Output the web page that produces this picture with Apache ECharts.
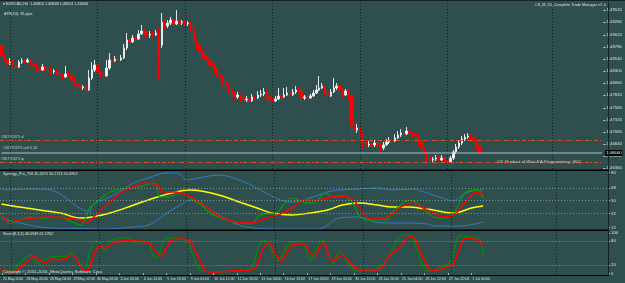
<!DOCTYPE html>
<html><head><meta charset="utf-8">
<script src="https://cdn.jsdelivr.net/npm/echarts@6.0.0/dist/echarts.min.js"></script>
<style>html,body{margin:0;padding:0;background:#2f4f4f;overflow:hidden}#c{width:625px;height:283px}</style>
</head><body><div id="c"></div>
<script>
// ---------- DATA ----------
const timeLabels = ['21 May 2014','26 May 20:00','28 May 04:00','29 May 12:00','30 May 20:00','3 Jun 04:00','4 Jun 12:00','5 Jun 20:00','9 Jun 04:00','10 Jun 12:00','11 Jun 20:00','13 Jun 04:00','16 Jun 12:00','17 Jun 20:00','19 Jun 04:00','20 Jun 12:00','23 Jun 20:00','25 Jun 04:00','26 Jun 12:00','27 Jun 20:00','1 Jul 04:00'];

const opens = [
1.4880,1.4860,1.4852,1.4844,1.4848,1.4840,1.4838,1.4848,1.4850,1.4848,
1.4852,1.4846,1.4840,1.4836,1.4832,1.4838,1.4834,1.4832,1.4828,1.4830,
1.4824,1.4822,1.4818,1.4824,1.4820,1.4812,1.4804,1.4800,1.4796,1.4798,
1.4792,1.4816,1.4832,1.4842,1.4828,1.4822,1.4820,1.4836,1.4852,1.4850,
1.4854,1.4852,1.4856,1.4876,1.4892,1.4888,1.4896,1.4894,1.4904,1.4910,
1.4906,1.4902,1.4904,1.4902,1.4906,1.4882,1.4928,1.4920,1.4926,1.4932,
1.4924,1.4930,1.4926,1.4928,1.4924,1.4926,1.4916,1.4892,1.4882,1.4868,
1.4862,1.4852,1.4848,1.4840,1.4832,1.4824,1.4816,1.4808,1.4800,1.4792,
1.4784,1.4778,1.4782,1.4776,1.4772,1.4774,1.4770,1.4778,1.4776,1.4782,
1.4784,1.4788,1.4778,1.4772,1.4770,1.4774,1.4780,1.4778,1.4782,1.4786,
1.4782,1.4788,1.4792,1.4790,1.4776,1.4778,1.4776,1.4780,1.4786,1.4792,
1.4796,1.4800,1.4788,1.4780,1.4788,1.4796,1.4800,1.4792,1.4782,1.4790,
1.4780,1.4722,1.4712,1.4716,1.4700,1.4688,1.4682,1.4684,1.4682,1.4686,
1.4682,1.4676,1.4682,1.4688,1.4692,1.4690,1.4696,1.4702,1.4706,1.4704,
1.4710,1.4706,1.4704,1.4700,1.4688,1.4676,1.4664,1.4656,1.4652,1.4654,
1.4656,1.4652,1.4656,1.4652,1.4648,1.4656,1.4668,1.4678,1.4686,1.4694,
1.4698,1.4700,1.4696,1.4690,1.4680];
const closes = [
1.4860,1.4852,1.4844,1.4848,1.4840,1.4838,1.4848,1.4850,1.4848,1.4852,
1.4846,1.4840,1.4836,1.4832,1.4838,1.4834,1.4832,1.4828,1.4830,1.4824,
1.4822,1.4818,1.4824,1.4820,1.4812,1.4804,1.4800,1.4796,1.4798,1.4792,
1.4816,1.4832,1.4842,1.4828,1.4822,1.4820,1.4836,1.4852,1.4850,1.4854,
1.4852,1.4856,1.4876,1.4892,1.4888,1.4896,1.4894,1.4904,1.4910,1.4906,
1.4902,1.4904,1.4902,1.4906,1.4856,1.4928,1.4920,1.4926,1.4932,1.4924,
1.4930,1.4926,1.4928,1.4924,1.4926,1.4916,1.4892,1.4882,1.4868,1.4862,
1.4852,1.4848,1.4840,1.4832,1.4824,1.4816,1.4808,1.4800,1.4792,1.4784,
1.4778,1.4782,1.4776,1.4772,1.4774,1.4770,1.4778,1.4776,1.4782,1.4784,
1.4788,1.4778,1.4772,1.4770,1.4774,1.4780,1.4778,1.4782,1.4786,1.4782,
1.4788,1.4792,1.4790,1.4776,1.4778,1.4776,1.4780,1.4786,1.4792,1.4796,
1.4800,1.4788,1.4780,1.4788,1.4796,1.4800,1.4792,1.4782,1.4790,1.4780,
1.4722,1.4712,1.4716,1.4700,1.4688,1.4682,1.4684,1.4682,1.4686,1.4682,
1.4676,1.4682,1.4688,1.4692,1.4690,1.4696,1.4702,1.4706,1.4704,1.4710,
1.4706,1.4704,1.4700,1.4688,1.4676,1.4664,1.4656,1.4652,1.4654,1.4656,
1.4652,1.4656,1.4652,1.4648,1.4656,1.4668,1.4678,1.4686,1.4694,1.4698,
1.4700,1.4696,1.4690,1.4680,1.4666];
const highs = [
1.4886,1.4864,1.4856,1.4856,1.4852,1.4846,1.4852,1.4856,1.4854,1.4856,
1.4854,1.4850,1.4844,1.4840,1.4844,1.4842,1.4838,1.4836,1.4834,1.4832,
1.4828,1.4826,1.4840,1.4828,1.4824,1.4816,1.4808,1.4804,1.4802,1.4802,
1.4832,1.4848,1.4852,1.4846,1.4832,1.4826,1.4852,1.4866,1.4858,1.4860,
1.4858,1.4862,1.4884,1.4906,1.4896,1.4902,1.4900,1.4912,1.4922,1.4914,
1.4910,1.4910,1.4908,1.4912,1.4918,1.4946,1.4932,1.4932,1.4938,1.4936,
1.4952,1.4934,1.4932,1.4932,1.4930,1.4930,1.4920,1.4896,1.4886,1.4872,
1.4866,1.4856,1.4852,1.4844,1.4836,1.4828,1.4820,1.4812,1.4804,1.4796,
1.4788,1.4788,1.4786,1.4780,1.4780,1.4778,1.4784,1.4782,1.4790,1.4792,
1.4796,1.4792,1.4782,1.4776,1.4780,1.4796,1.4786,1.4796,1.4798,1.4792,
1.4794,1.4800,1.4796,1.4794,1.4782,1.4782,1.4784,1.4792,1.4802,1.4820,
1.4806,1.4802,1.4792,1.4794,1.4816,1.4806,1.4802,1.4796,1.4794,1.4792,
1.4784,1.4736,1.4724,1.4720,1.4704,1.4692,1.4690,1.4688,1.4692,1.4690,
1.4686,1.4688,1.4694,1.4698,1.4696,1.4704,1.4710,1.4714,1.4710,1.4718,
1.4712,1.4710,1.4708,1.4704,1.4692,1.4680,1.4668,1.4660,1.4658,1.4662,
1.4660,1.4662,1.4658,1.4656,1.4660,1.4672,1.4684,1.4692,1.4700,1.4704,
1.4706,1.4704,1.4698,1.4694,1.4684];
const lows = [
1.4856,1.4848,1.4838,1.4842,1.4836,1.4832,1.4836,1.4844,1.4844,1.4846,
1.4842,1.4834,1.4828,1.4828,1.4830,1.4830,1.4826,1.4822,1.4824,1.4820,
1.4818,1.4814,1.4816,1.4816,1.4808,1.4800,1.4794,1.4790,1.4792,1.4786,
1.4790,1.4812,1.4828,1.4824,1.4818,1.4816,1.4818,1.4832,1.4846,1.4848,
1.4846,1.4850,1.4854,1.4872,1.4884,1.4886,1.4888,1.4892,1.4902,1.4900,
1.4898,1.4896,1.4898,1.4900,1.4812,1.4876,1.4914,1.4916,1.4922,1.4918,
1.4922,1.4920,1.4922,1.4920,1.4920,1.4908,1.4884,1.4872,1.4860,1.4856,
1.4846,1.4840,1.4834,1.4826,1.4818,1.4810,1.4802,1.4794,1.4786,1.4778,
1.4772,1.4774,1.4770,1.4766,1.4768,1.4764,1.4768,1.4772,1.4774,1.4778,
1.4780,1.4772,1.4768,1.4764,1.4768,1.4772,1.4772,1.4776,1.4780,1.4776,
1.4780,1.4784,1.4784,1.4756,1.4772,1.4770,1.4774,1.4778,1.4784,1.4790,
1.4794,1.4782,1.4774,1.4778,1.4786,1.4792,1.4786,1.4776,1.4780,1.4774,
1.4690,1.4702,1.4706,1.4692,1.4672,1.4674,1.4678,1.4676,1.4678,1.4674,
1.4666,1.4672,1.4680,1.4684,1.4684,1.4688,1.4694,1.4698,1.4698,1.4702,
1.4700,1.4698,1.4694,1.4682,1.4670,1.4658,1.4648,1.4646,1.4648,1.4650,
1.4648,1.4650,1.4646,1.4644,1.4646,1.4652,1.4664,1.4674,1.4682,1.4690,
1.4694,1.4692,1.4684,1.4674,1.4660];

const priceTicks = [1.4952,1.4928,1.4902,1.4878,1.4854,1.4830,1.4806,1.4782,1.4756,1.4732,1.4708,1.4684,1.4660,1.4636];
const slLevel = 1.4692, bidLevel = 1.4666, tpLevel = 1.4648;
const orderTexts = ['#36770575 sl', '#36770575 sell 0.10', '#36770575 tp'];

// TDI pane: [barIndex, value]
const tdiUpper = [[0,65.1],[11,66.5],[17,65.1],[22,53.8],[26,41.1],[30,34.0],[31,43.9],[36,53.8],[40,62.3],[45,75.0],[50,82.1],[56,89.2],[60,89.2],[63,79.3],[67,82.1],[74,86.3],[79,82.1],[85,72.2],[90,60.9],[95,51.0],[99,48.2],[105,53.8],[111,62.3],[115,65.1],[122,66.5],[128,68.0],[133,65.1],[140,66.5],[145,60.9],[150,53.8],[154,49.6],[157,58.1],[160,63.7],[164,65.1]];
const tdiLower = [[0,25.5],[5,19.9],[11,14.2],[17,11.4],[28,10.7],[34,10.0],[45,12.8],[50,15.6],[54,25.5],[58,36.9],[61,43.9],[64,51.0],[68,45.3],[74,29.8],[81,15.6],[86,11.4],[95,10.0],[108,10.0],[115,25.5],[122,27.0],[127,19.9],[133,18.5],[139,18.5],[145,17.1],[147,14.2],[156,14.2],[164,19.9]];
const tdiYellow = [[0,45.3],[6,41.1],[13,36.9],[20,32.6],[27,25.5],[31,27.0],[37,32.6],[45,43.9],[52,53.8],[58,60.9],[64,65.1],[68,63.7],[74,58.1],[81,48.2],[87,39.7],[92,32.6],[99,29.8],[105,32.6],[111,36.9],[116,43.9],[122,46.8],[128,43.9],[133,41.1],[139,41.1],[142,39.7],[147,36.9],[153,32.6],[156,34.0],[160,39.7],[164,42.5]];
const tdiRed = [[0,29.8],[3,19.9],[6,22.7],[11,25.5],[17,27.0],[22,25.5],[27,22.7],[29,19.9],[33,34.0],[37,48.2],[41,62.3],[45,69.4],[48,75.0],[53,72.2],[55,62.3],[59,62.3],[63,58.1],[67,49.6],[72,34.0],[77,22.7],[85,18.5],[90,25.5],[95,31.2],[99,39.7],[103,51.0],[108,51.0],[114,56.7],[119,53.8],[122,39.7],[125,25.5],[130,25.5],[134,34.0],[136,41.1],[140,46.8],[143,41.1],[147,32.6],[150,27.0],[154,29.8],[157,43.9],[160,58.1],[162,62.3],[164,59.5]];
const tdiGreen = [[0,32.6],[3,18.5],[10,27.0],[14,25.5],[20,27.0],[24,19.9],[27,15.6],[30,39.7],[34,53.8],[37,62.3],[43,68.0],[47,69.4],[52,75.0],[54,55.2],[57,55.2],[61,60.9],[64,55.2],[68,43.9],[72,29.8],[79,19.9],[85,17.1],[88,29.8],[94,34.0],[96,43.9],[99,53.8],[104,46.8],[107,48.2],[110,60.9],[113,55.2],[116,58.1],[120,43.9],[122,27.0],[125,22.7],[131,22.7],[133,34.0],[136,43.9],[139,51.0],[141,48.2],[145,34.0],[147,27.0],[150,25.5],[154,32.6],[156,48.2],[158,62.3],[162,65.1],[164,53.8]];
const tdiLevels = [68, 50, 32];
const tdiTicks = [12, 32, 50, 68, 90];

// Stochastic pane
const stochMain = [[0,6.2],[2,6.2],[5,18.5],[8,38.3],[10,45.7],[12,25.9],[14,33.3],[17,40.7],[22,43.2],[23,50.6],[26,30.9],[28,6.2],[30,55.6],[32,80.2],[35,58.0],[37,80.2],[40,87.7],[43,87.7],[45,75.3],[50,75.3],[51,50.6],[53,38.3],[55,80.2],[57,87.7],[61,85.0],[63,80.2],[66,30.9],[68,6.2],[71,3.7],[81,6.2],[85,13.6],[88,75.3],[90,82.7],[94,30.9],[98,75.3],[102,80.2],[105,33.3],[109,82.7],[113,25.9],[115,55.6],[118,25.9],[121,6.2],[126,6.2],[131,33.3],[136,92.6],[139,95.1],[142,45.7],[145,6.2],[148,8.6],[153,30.9],[156,92.6],[162,87.7],[164,46.1]];
const stochSignal = [[0,6.2],[4,3.7],[6,13.6],[9,30.9],[11,43.2],[13,30.9],[15,25.9],[17,35.8],[19,33.3],[22,38.3],[24,45.7],[27,13.6],[29,6.2],[31,38.3],[33,67.9],[35,63.0],[38,75.3],[40,77.8],[43,82.7],[46,80.2],[50,75.3],[52,58.0],[54,43.2],[56,63.0],[58,82.7],[61,85.2],[64,80.2],[67,38.3],[69,8.6],[71,3.0],[79,6.2],[85,8.6],[87,21.0],[89,63.0],[91,75.3],[93,50.6],[95,30.9],[97,50.6],[99,70.4],[103,72.8],[105,50.6],[107,43.2],[108,63.0],[110,75.3],[111,50.6],[113,30.9],[116,45.7],[118,30.9],[122,8.6],[128,8.6],[132,43.2],[136,67.9],[139,92.6],[141,82.7],[143,45.7],[146,8.6],[148,6.2],[152,18.5],[154,25.9],[156,63.0],[158,87.7],[162,82.7],[164,70.4]];
const stochLevels = [80, 20];
const stochTicks = [0, 20, 80, 100];

const vGridBars = [3, 33, 63, 93, 123, 153, 189];
const SLOTS = 207;

// ---------- CHART ----------
const FONT = 'Liberation Sans';
const TXT = '#d8e0e0';
const cats = Array.from({length: SLOTS}, (_, i) => String(i));
const showTime = (i) => i % 8 === 0 && (i / 8) < timeLabels.length;
const vLineStyle = {color: '#0c1a1a', type: [1, 2], width: 1, opacity: 0.9};
const vLines = vGridBars.map(v => ({xAxis: v, lineStyle: vLineStyle}));
const levelStyle = {color: '#809595', type: [1, 2], width: 1};
const dashDot = {color: '#e4521b', type: [4, 2, 1, 2], width: 1};

function xAx(g, labels) {
  return {
    type: 'category', gridIndex: g, data: cats, boundaryGap: true,
    axisLine: {show: false}, splitLine: {show: false},
    axisTick: labels ? {show: true, interval: (i) => showTime(i), alignWithLabel: true, length: 2, lineStyle: {color: '#c8d0d0'}} : {show: false},
    axisLabel: labels ? {show: true, interval: (i) => showTime(i), formatter: (v, i) => timeLabels[i / 8] || '',
      align: 'left', fontSize: 3.5, fontFamily: FONT, color: TXT, margin: 2, padding: [0, 0, 0, 1]} : {show: false}
  };
}
function yAx(g, min, max, ticks, fmt) {
  return {
    type: 'value', gridIndex: g, position: 'right', min: min, max: max,
    axisLine: {show: false}, splitLine: {show: false},
    axisTick: {show: true, customValues: ticks, length: 2, lineStyle: {color: '#c8d0d0'}},
    axisLabel: {show: true, customValues: ticks, formatter: fmt, fontSize: 4.3, fontFamily: FONT, color: TXT, margin: 3}
  };
}
const line = (name, data, color, width, xi) => ({
  name, type: 'line', xAxisIndex: xi, yAxisIndex: xi, data, showSymbol: false, smooth: 0.35,
  lineStyle: {color, width}, itemStyle: {color}, animation: false, silent: true, z: 3
});
const guide = (xi, items, z) => ({
  type: 'line', xAxisIndex: xi, yAxisIndex: xi, data: [], silent: true, animation: false, z: z || 1,
  markLine: {silent: true, precision: 5, symbol: ['none', 'none'], animation: false, label: {show: false}, data: items}
});
const smallLbl = {show: true, position: 'insideStartTop', fontSize: 3.8, fontFamily: FONT, color: '#c4cccc', distance: 1};

const option = {
  backgroundColor: '#2f4f4f',
  animation: false,
  grid: [
    {left: 0, right: 17, top: 1, height: 168},
    {left: 0, right: 17, top: 171, height: 58},
    {left: 0, right: 17, top: 231, height: 44}
  ],
  xAxis: [xAx(0, false), xAx(1, false), xAx(2, true)],
  yAxis: [
    yAx(0, 1.4634, 1.4970, priceTicks, v => v.toFixed(5)),
    yAx(1, 10, 92, tdiTicks, v => String(v)),
    yAx(2, -4, 105, stochTicks, v => String(v))
  ],
  series: [
    guide(0, [
      ...vLines,
      {yAxis: slLevel, lineStyle: dashDot, label: {...smallLbl, formatter: orderTexts[0]}},
      {yAxis: tpLevel, lineStyle: dashDot, label: {...smallLbl, formatter: orderTexts[2]}}
    ], 4),
    {
      name: 'Bid', type: 'line', xAxisIndex: 0, yAxisIndex: 0, z: 5, silent: true, animation: false,
      data: [[0, bidLevel], [SLOTS - 1, bidLevel]], showSymbol: false, symbol: 'none',
      lineStyle: {color: '#b4c0c0', width: 1},
      endLabel: {show: true, formatter: () => bidLevel.toFixed(5), backgroundColor: '#000', color: '#fff',
        fontSize: 4.3, fontFamily: FONT, padding: [1, 1], distance: 3}
    },
    {
      type: 'candlestick', xAxisIndex: 0, yAxisIndex: 0, barWidth: 2, z: 2,
      data: opens.map((o, i) => [o, closes[i], lows[i], highs[i]]),
      itemStyle: {color: '#ffffff', color0: '#ff0000', borderColor: '#e4e8e8', borderColor0: '#ff0000', borderWidth: 1},
      silent: true
    },
    guide(1, [...vLines, ...tdiLevels.map(v => ({yAxis: v, lineStyle: levelStyle}))]),
    line('Upper band', tdiUpper, '#2f7fc4', 1, 1),
    line('Lower band', tdiLower, '#2f7fc4', 1, 1),
    line('Market base', tdiYellow, '#ffff00', 1.5, 1),
    line('RSI price', tdiGreen, '#00a000', 1.2, 1),
    line('Signal', tdiRed, '#ff0000', 1.5, 1),
    guide(2, [...vLines, ...stochLevels.map(v => ({yAxis: v, lineStyle: levelStyle}))]),
    line('Stoch main', stochMain, '#008f00', 1.2, 2),
    line('Stoch signal', stochSignal, '#ff0000', 1.6, 2)
  ],
  graphic: [
    {type: 'rect', shape: {x: 0, y: 0, width: 625, height: 1}, style: {fill: '#142222'}, z: 100, silent: true},
    {type: 'rect', shape: {x: 0, y: 169.5, width: 608, height: 1.5}, style: {fill: '#000'}, z: 100, silent: true},
    {type: 'rect', shape: {x: 0, y: 229.5, width: 608, height: 1.5}, style: {fill: '#000'}, z: 100, silent: true},
    {type: 'rect', shape: {x: 0, y: 275, width: 608, height: 1}, style: {fill: '#000'}, z: 100, silent: true},
    {type: 'rect', shape: {x: 608, y: 0, width: 1, height: 276}, style: {fill: '#142222'}, z: 100, silent: true},
    {type: 'text', left: 3, top: 2, z: 101, style: {text: '▾ EURCAD,H4  1.46800 1.46848 1.46624 1.46660', fill: TXT, fontSize: 3.8, fontFamily: FONT}},
    {type: 'text', left: 4, top: 12, z: 101, style: {text: 'ATR(10): 35 pips', fill: TXT, fontSize: 3.8, fontFamily: FONT}},
    {type: 'text', right: 18, top: 3, z: 101, style: {text: 'CS_M_55_Complete Trade Manager v1 ☺', fill: TXT, fontSize: 3.8, fontFamily: FONT}},
    {type: 'text', left: 3, top: 146, z: 101, style: {text: orderTexts[1], fill: '#c4cccc', fontSize: 3.8, fontFamily: FONT}},
    {type: 'text', left: 497, top: 160, z: 101, style: {text: 'CS  Product of Wise-EA Programming  (EC)', fill: '#c8d0d0', fontSize: 4.3, fontFamily: FONT}},
    {type: 'text', left: 3, top: 172, z: 101, style: {text: 'Synergy_Pro_TDI 45.2475 50.2713 55.0952', fill: TXT, fontSize: 3.8, fontFamily: FONT}},
    {type: 'text', left: 3, top: 231.5, z: 101, style: {text: 'Stoch(8,3,3) 46.0949 61.2702', fill: TXT, fontSize: 3.8, fontFamily: FONT}},
    {type: 'text', left: 3, top: 269.5, z: 101, style: {text: 'Copyright © 2001-2014, MetaQuotes Software Corp.', fill: TXT, fontSize: 4.3, fontFamily: FONT}}
  ]
};
const chart = echarts.init(document.getElementById('c'), null, {renderer: 'canvas', width: 625, height: 283});
chart.setOption(option);
</script></body></html>
